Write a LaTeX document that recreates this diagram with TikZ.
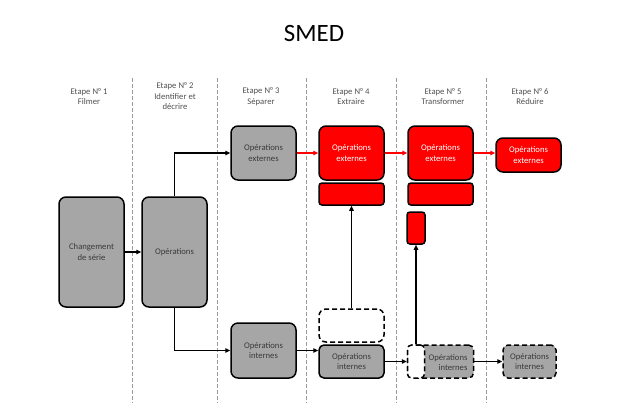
\documentclass[tikz,border=0pt]{standalone}
\usepackage{fontspec}
\setmainfont{Carlito}
\usetikzlibrary{arrows.meta}
\definecolor{boxgray}{HTML}{A6A6A6}
\definecolor{txtgray}{HTML}{3A3A3A}
\definecolor{hdrgray}{HTML}{505050}
\definecolor{sepgray}{HTML}{9A9A9A}
\tikzset{
  lbl/.style={font=\fontsize{8.7}{10.5}\selectfont, align=center, inner sep=0pt},
  hdr/.style={lbl, text=hdrgray},
  gbox/.style={lbl, draw=black, line width=1.5bp, fill=boxgray, text=txtgray, rounded corners=7bp},
  rbox/.style={gbox, fill=red, text=white},
  dbox/.style={dash pattern=on 5bp off 3bp},
  sep/.style={draw=sepgray, line width=0.8bp, dash pattern=on 4bp off 2bp},
  arr/.style={draw=black, line width=1.4bp, -{Triangle[length=5bp,width=4.5bp]}},
  rarr/.style={arr, draw=red, fill=red},
  sz/.style 2 args={minimum width=#1bp, minimum height=#2bp}
}
\begin{document}
\begin{tikzpicture}[x=1bp,y=-1bp]
\useasboundingbox (0,0) rectangle (640,405);
\node[inner sep=0pt, font=\fontsize{25}{30}\selectfont] (title) at (314,33) {SMED};
% separators
\foreach \x in {132,217,306,396,486} \draw[sep] (\x,78) -- (\x,403);
% headers
\node[hdr] (h1) at (89,96.5) {Etape N° 1\\Filmer};
\node[hdr] (h2) at (175,96.5) {Etape N° 2\\Identifier et\\décrire};
\node[hdr] (h3) at (261,96.5) {Etape N° 3\\Séparer};
\node[hdr] (h4) at (351,96.5) {Etape N° 4\\Extraire};
\node[hdr] (h5) at (443,96.5) {Etape N° 5\\Transformer};
\node[hdr] (h6) at (530,96.5) {Etape N° 6\\Réduire};
% boxes
\node[gbox, sz={65}{110}] (cs) at (91.5,252) {Changement\\de série};
\node[gbox, sz={65}{110}] (op) at (174.5,252) {Opérations};
\node[gbox, sz={65}{54}] (e3) at (263.5,153) {Opérations\\externes};
\node[gbox, sz={65}{55}] (i3) at (263.5,350.5) {Opérations\\internes};
\node[rbox, sz={65}{54}] (e4) at (351.5,153) {Opérations\\externes};
\node[rbox, sz={65}{22}, rounded corners=3bp] (b4) at (351.5,194) {};
\node[gbox, dbox, fill=white, sz={65}{33}] (d4) at (351.5,325.5) {};
\node[gbox, sz={65}{33}, rounded corners=5bp] (i4) at (351.5,361.5) {Opérations\\internes};
\node[rbox, sz={65}{54}] (e5) at (440.5,153) {Opérations\\externes};
\node[rbox, sz={65}{22}, rounded corners=3bp] (b5) at (440.5,194) {};
\node[rbox, sz={18}{32}, rounded corners=3bp] (r5) at (416,228) {};
\node[gbox, dbox, sz={66}{33}, rounded corners=5bp] (i5) at (440.5,361.5) {};
\node[gbox, dbox, fill=white, sz={17}{33}, rounded corners=4bp] (w5) at (416,361.5) {};
\node[lbl, text=txtgray, align=right] (t5) at (448,362.5) {Opérations\\internes};
\node[rbox, sz={65}{34}] (e6) at (528.5,155) {Opérations\\externes};
\node[gbox, dbox, sz={53}{33}, rounded corners=5bp] (i6) at (529.5,361.5) {Opérations\\internes};
% connectors
\draw[arr] (cs.east) -- (op.west);
\draw[arr] (op.north) |- (e3.west);
\draw[arr] (op.south) |- (i3.west);
\draw[rarr] (e3.east) -- (e4.west);
\draw[rarr] (e4.east) -- (e5.west);
\draw[rarr] (e5.east) -- (e5.east -| e6.west);
\draw[arr] (i3.east) -- (i3.east -| i4.west);
\draw[arr] (d4.north) -- (b4.south);
\draw[arr] (i4.east) -- (w5.west);
\draw[arr] (w5.north) -- (r5.south);
\draw[arr] (i5.east) -- (i6.west);
\end{tikzpicture}
\end{document}
